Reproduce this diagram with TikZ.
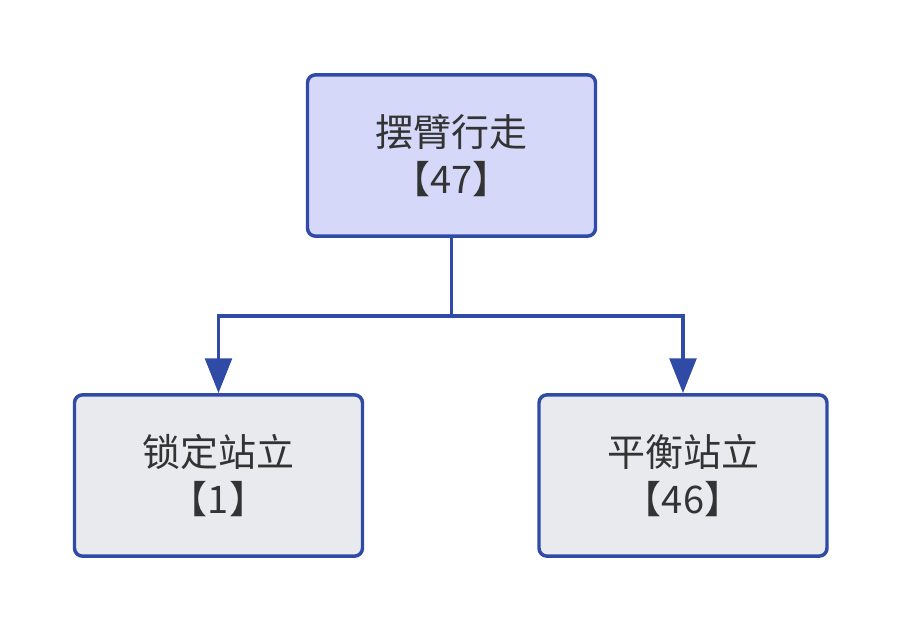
\documentclass[tikz,border=0pt]{standalone}
\usepackage{fontspec}
\setmainfont{Noto Sans CJK SC}
\usetikzlibrary{arrows.meta}
\definecolor{edge}{HTML}{2F4BA6}
\definecolor{topfill}{HTML}{D5D8F8}
\definecolor{botfill}{HTML}{E8EAEE}
\definecolor{txt}{HTML}{333333}
\tikzset{
  box/.style={draw=edge, line width=2.6pt, rounded corners=6pt, minimum width=216pt, minimum height=121pt, align=center, text=txt, font=\fontsize{28.5}{35}\selectfont, inner sep=0pt},
  conn/.style={draw=edge, line width=2.6pt, -{Triangle[length=26pt,width=20pt]}}
}
\begin{document}
\begin{tikzpicture}[x=0.75pt,y=-0.75pt]
\useasboundingbox (0,0) rectangle (901,631);
\node[box, fill=topfill] (a) at (451.5,155.5) {摆臂行走\\【47】};
\node[box, fill=botfill] (b) at (218.5,475.5) {锁定站立\\【1】};
\node[box, fill=botfill] (c) at (683,475.5) {平衡站立\\【46】};
\coordinate (m) at (451.5,316);
\draw[conn] (a.south) -- (m) -| (b.north);
\draw[conn] (m) -| (c.north);
\end{tikzpicture}
\end{document}
